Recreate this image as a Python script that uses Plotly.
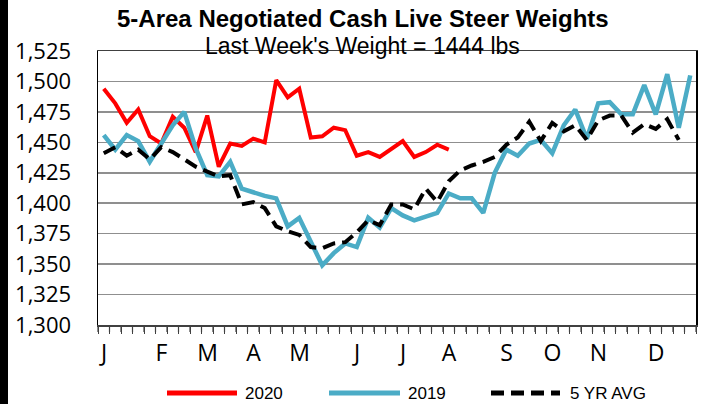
import plotly.graph_objects as go

weeks = list(range(1, 53))

y2020 = [1494, 1482, 1466, 1477, 1455, 1449, 1471, 1462, 1442, 1472, 1430, 1449, 1447,
         1453, 1450, 1501, 1487, 1494, 1454, 1455, 1462, 1460, 1439, 1442, 1438, 1445,
         1451, 1438, 1442, 1448, 1444]

y2019 = [1456, 1444, 1456, 1451, 1434, 1449, 1464, 1475, 1445, 1423, 1422, 1434, 1412,
         1409, 1406, 1404, 1381, 1388, 1368, 1349, 1359, 1367, 1364, 1388, 1380, 1396,
         1390, 1386, 1389, 1392, 1408, 1404, 1404, 1392, 1425, 1444, 1439, 1449, 1452,
         1441, 1464, 1477, 1453, 1482, 1483, 1473, 1473, 1497, 1473, 1506, 1462, 1505]

y5yr = [1441, 1446, 1439, 1444, 1436, 1446, 1442, 1436, 1430, 1426, 1422, 1423, 1399,
        1401, 1396, 1381, 1377, 1374, 1364, 1363, 1367, 1368, 1376, 1386, 1382, 1399,
        1399, 1395, 1412, 1401, 1418, 1427, 1431, 1434, 1438, 1448, 1454, 1467, 1451,
        1466, 1459, 1464, 1452, 1468, 1472, 1472, 1458, 1465, 1461, 1469, 1452]

month_labels = ["J", "F", "M", "A", "M", "J", "J", "A", "S", "O", "N", "D"]
month_weeks = [1, 6, 10, 14, 18, 23, 27, 31, 36, 40, 44, 49]

series_names = ["2020", "2019", "5 YR AVG"]
series_colors = ["#FF0000", "#4BACC6", "#000000"]

title = "5-Area Negotiated Cash Live Steer Weights"
subtitle = "Last Week's Weight = 1444 lbs"

DASH = "13px,7px"
widths = [4, 4.5, 4]
dashes = ["solid", "solid", DASH]

fig = go.Figure()
for name, ys, col, w, d in zip(series_names, [y2020, y2019, y5yr], series_colors, widths, dashes):
    fig.add_trace(go.Scatter(x=weeks[:len(ys)], y=ys, mode="lines", name=name,
                             line=dict(color=col, width=w, dash=d), showlegend=False,
                             hoverinfo="skip"))

L, R, T, B = 98, 8, 51, 79
W, H = 704, 404
pw, ph = W - L - R, H - T - B
week_px = pw / 52.0
x_range = [0.5, 52.5]

def px_x(p):
    return (p - L) / pw

def px_y(p):
    return (H - B - p) / ph

# week-boundary ticks; month names sit on the boundary before their week, shifted half a week
bound_vals = [w - 0.5 for w in range(1, 54)]
bound_text = [""] * len(bound_vals)
for wk, lab in zip(month_weeks, month_labels):
    bound_text[wk - 1] = lab

shapes = [
    dict(type="rect", xref="paper", yref="paper", x0=px_x(0), x1=px_x(8),
         y0=px_y(404), y1=px_y(0), fillcolor="#000000", line=dict(width=0), layer="above"),
]
# tick marks at each week boundary (converted from the x range), just below the plot
tick_len = 7 / ph
for b in bound_vals:
    xp = (b - x_range[0]) / (x_range[1] - x_range[0])
    shapes.append(dict(type="line", xref="paper", yref="paper", x0=xp, x1=xp,
                       y0=0, y1=-tick_len,
                       line=dict(color="#404040", width=1.2), layer="above"))

annotations = [
    dict(text="<b>" + title + "</b>", xref="paper", yref="paper", x=px_x(363), y=px_y(19),
         xanchor="center", yanchor="middle", showarrow=False,
         font=dict(family="Liberation Sans, Arial", size=24, color="#000")),
    dict(text=subtitle, xref="paper", yref="paper", x=px_x(362), y=px_y(46),
         xanchor="center", yanchor="middle", showarrow=False,
         font=dict(family="Liberation Sans, Arial", size=23, color="#000")),
]

# custom legend (sample line + label), pixel positions of the reference legend
leg_y = 393
leg_samples = [(167, 237, 243), (329, 400, 406), (491, 560, 568)]
for (x0, x1, tx), name, col, w, d in zip(leg_samples, series_names, series_colors, widths, dashes):
    shapes.append(dict(type="line", xref="paper", yref="paper", x0=px_x(x0), x1=px_x(x1),
                       y0=px_y(leg_y), y1=px_y(leg_y),
                       line=dict(color=col, width=5, dash=d)))
    annotations.append(dict(text=name, xref="paper", yref="paper", x=px_x(tx), y=px_y(leg_y),
                            xanchor="left", yanchor="middle", showarrow=False,
                            font=dict(family="Liberation Sans, Arial", size=17, color="#000")))

fig.update_layout(
    width=W, height=H,
    margin=dict(l=L, r=R, t=T, b=B, autoexpand=False),
    paper_bgcolor="rgba(0,0,0,0)", plot_bgcolor="white",
    showlegend=False, hovermode=False,
    xaxis=dict(range=x_range, tickmode="array", tickvals=bound_vals, ticktext=bound_text,
               ticks="outside", ticklen=7, tickcolor="#404040", tickwidth=1,
               showgrid=False, zeroline=False, automargin=False,
               showline=True, linecolor="#404040", linewidth=1.5, mirror=True,
               ticklabelshift=round(week_px / 2),
               tickfont=dict(family="Open Sans, Noto Sans", size=23, color="#000")),
    yaxis=dict(range=[1300, 1525], dtick=25, tick0=1300, tickformat=",", ticks="",
               showgrid=True, gridcolor="#8f8f8f", gridwidth=1.6, zeroline=False,
               automargin=False,
               showline=True, linecolor="#000", linewidth=1.5, mirror=True,
               ticklabelstandoff=21,
               tickfont=dict(family="Open Sans, Noto Sans", size=22, color="#000")),
    annotations=annotations,
    shapes=shapes,
)

page_css = ("document.body.style.margin='0px';"
            "document.body.style.overflow='hidden';"
            "document.body.style.background='linear-gradient(to right, #000 0px, #000 8px, #fff 8px, #fff 100%)';")

fig.write_html("out.html", config={"displayModeBar": False, "staticPlot": True},
               post_script=page_css)
